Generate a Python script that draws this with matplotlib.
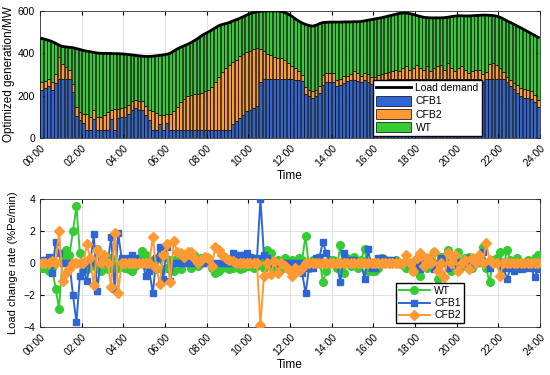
import numpy as np
import matplotlib
matplotlib.use("Agg")
import matplotlib.pyplot as plt

plt.rcParams['font.family'] = ['Liberation Sans', 'DejaVu Sans']

# -- top chart: 10-min dispatch (MW) --
load_demand = [
    470, 466, 461, 455, 447, 438, 432, 430, 428, 426, 422, 418,
    413, 410, 407, 404, 401, 400, 399, 399, 399, 398, 398, 397,
    396, 394, 392, 390, 388, 386, 385, 385, 386, 388, 390, 392,
    395, 400, 410, 420, 428, 435, 442, 450, 460, 470, 482, 492,
    500, 510, 520, 530, 536, 540, 545, 552, 558, 565, 572, 580,
    587, 592, 596, 598, 600, 600, 600, 600, 600, 598, 592, 585,
    575, 563, 552, 543, 536, 531, 528, 532, 540, 545, 546, 547,
    547, 547, 547, 548, 548, 548, 549, 549, 550, 553, 556, 559,
    562, 565, 568, 572, 576, 580, 584, 588, 590, 590, 587, 583,
    578, 574, 570, 568, 567, 567, 567, 567, 568, 570, 573, 575,
    577, 577, 576, 576, 577, 578, 579, 580, 580, 579, 578, 575,
    570, 562, 553, 545, 537, 528, 520, 511, 502, 493, 484, 475]
cfb1 = [
    228, 235, 245, 225, 260, 280, 280, 280, 280, 215, 105, 85,
    70, 40, 40, 90, 40, 40, 40, 40, 90, 40, 95, 100,
    100, 115, 134, 140, 134, 134, 110, 86, 40, 40, 64, 40,
    71, 40, 40, 40, 40, 40, 40, 40, 40, 40, 40, 40,
    40, 40, 40, 40, 40, 40, 40, 65, 80, 95, 110, 126,
    134, 141, 150, 265, 278, 278, 278, 278, 278, 278, 278, 278,
    278, 276, 275, 268, 210, 197, 189, 197, 212, 252, 264, 264,
    264, 244, 250, 258, 267, 272, 275, 270, 265, 272, 262, 255,
    260, 265, 270, 275, 278, 278, 278, 278, 278, 278, 278, 278,
    278, 278, 278, 278, 278, 278, 278, 278, 278, 278, 278, 278,
    278, 278, 278, 278, 278, 278, 278, 262, 278, 278, 278, 278,
    278, 278, 262, 246, 230, 214, 200, 190, 190, 185, 170, 148]
cfb2 = [
    37, 35, 35, 40, 40, 100, 70, 55, 40, 40, 40, 40,
    45, 75, 60, 40, 60, 60, 70, 85, 40, 95, 40, 40,
    45, 42, 39, 40, 42, 39, 40, 48, 89, 78, 46, 70,
    41, 75, 88, 108, 130, 145, 160, 165, 168, 170, 172, 180,
    188, 200, 222, 250, 270, 290, 305, 295, 290, 290, 285, 279,
    276, 279, 275, 157, 132, 117, 115, 102, 100, 100, 92, 77,
    62, 54, 40, 31, 30, 31, 31, 28, 32, 47, 43, 43,
    43, 31, 30, 33, 24, 28, 40, 37, 26, 35, 38, 35,
    30, 30, 30, 30, 32, 37, 42, 36, 52, 60, 44, 52,
    68, 52, 44, 60, 36, 52, 60, 68, 44, 75, 52, 36,
    52, 60, 44, 28, 36, 44, 44, 38, 32, 72, 77, 67,
    52, 32, 28, 29, 30, 34, 35, 40, 38, 35, 35, 32]
wt = [
    205, 196, 181, 190, 147, 58, 82, 95, 108, 171, 277, 293,
    298, 295, 307, 274, 301, 300, 289, 274, 269, 263, 263, 257,
    251, 237, 219, 210, 212, 213, 235, 251, 257, 270, 280, 282,
    283, 285, 282, 272, 258, 250, 242, 245, 252, 260, 270, 272,
    272, 270, 258, 240, 226, 210, 200, 192, 188, 180, 177, 175,
    177, 172, 171, 176, 190, 205, 207, 220, 222, 220, 222, 230,
    235, 233, 237, 244, 296, 303, 308, 307, 296, 246, 239, 240,
    240, 272, 267, 257, 257, 248, 234, 242, 259, 246, 256, 269,
    272, 270, 268, 267, 266, 265, 264, 274, 260, 252, 265, 253,
    232, 244, 248, 230, 253, 237, 229, 221, 246, 217, 243, 261,
    247, 239, 254, 270, 263, 256, 257, 280, 270, 229, 223, 230,
    240, 252, 263, 270, 277, 280, 285, 281, 274, 273, 279, 295]

# -- bottom chart: load change rate (%Pe/min) --
rate_wt = [
    -0.3, -0.3, -0.5, -0.3, -1.6, -2.85, 0.3, 0.8, 0.5, 2.0, 3.55, 0.6,
    -0.5, -0.4, 0.1, -0.2, 0.9, -0.5, 0.3, -0.4, 0.3, -0.2, -0.3, 0.2,
    -0.3, -0.4, -0.5, -0.2, 0.3, 0.75, 0.5, -0.3, 0.2, -0.4, 0.3, -0.4,
    -0.3, 0.2, -0.5, 0.3, -0.4, 0.2, 0.4, -0.3, 0.5, -0.2, 0.3, 0.4,
    0.3, -0.3, -0.6, -0.5, -0.3, -0.2, -0.4, -0.3, -0.2, -0.4, -0.3, -0.2,
    -0.2, -0.3, -0.2, 0.2, -0.3, 0.8, 0.6, -0.3, 0.2, -0.4, 0.3, -0.2,
    0.2, -0.2, 0.3, 0.2, 1.7, -0.3, 0.2, 0.1, 0.3, -1.2, -0.5, 0.2,
    0.2, -0.3, 1.1, -0.6, 0.3, -0.2, 0.4, -0.3, 0.2, 0.9, -0.5, -0.5,
    -0.5, -0.3, 0.3, 0.2, 0.0, 0.1, 0.2, 0.0, -0.1, -0.3, 0.0, -0.5,
    0.0, -0.8, 0.2, -0.3, 0.3, 0.7, -1.0, 0.4, 0.2, 0.8, -0.5, 0.3,
    0.7, -0.2, 0.3, 0.4, -0.3, 0.2, 0.3, 1.0, -0.3, -1.2, 0.2, 0.3,
    0.7, -0.3, 0.8, 0.2, -0.2, 0.3, 0.0, -0.3, 0.2, 0.0, 0.3, 0.5]
rate_cfb1 = [
    0.2, 0.2, 0.4, -0.6, 1.3, 0.6, 0.0, 0.0, 0.0, -2.0, -3.7, -0.8,
    -0.4, -1.1, 0.0, 1.8, -1.75, 0.3, 0.0, 0.0, 1.6, -1.6, 1.9, 0.3,
    0.2, 0.3, 0.5, 0.3, 0.1, 0.0, -0.8, -0.5, -1.9, 0.3, 1.0, -1.0,
    1.0, -1.1, 0.0, 0.0, 0.0, 0.0, 0.0, 0.0, 0.0, 0.0, 0.0, 0.0,
    0.0, 0.0, 0.0, 0.0, 0.0, 0.0, 0.0, 0.6, 0.5, 0.5, 0.5, 0.6,
    0.4, 0.3, 0.3, 4.0, 0.5, 0.3, 0.0, 0.0, 0.0, 0.0, 0.0, 0.0,
    0.0, 0.0, 0.0, -0.6, -1.9, -0.3, -0.3, 0.3, 0.4, 1.3, 0.6, 0.0,
    0.0, 0.0, -1.2, 0.6, 0.2, 0.2, 0.2, 0.0, 0.0, -1.0, 0.85, -0.3,
    -0.3, 0.3, 0.3, 0.2, 0.2, 0.2, 0.1, 0.0, 0.0, 0.0, 0.0, 0.0,
    0.0, -0.4, 0.2, 0.0, 0.0, -0.4, 0.0, 0.3, 0.0, -0.3, 0.0, 0.2,
    -0.2, 0.0, 0.0, 0.3, 0.0, 0.0, 0.0, 0.7, 0.0, -0.3, 0.0, 0.0,
    0.0, -0.3, -1.0, -0.3, -0.5, -0.3, -0.4, -0.3, -0.2, -0.3, -0.9, -0.4]
rate_cfb2 = [
    0.0, 0.0, 0.0, 0.1, 0.0, 2.0, -1.1, -0.6, -0.4, 0.0, 0.0, 0.0,
    0.0, 1.2, 0.3, -1.4, 0.8, 0.0, 0.5, 0.0, -1.5, 1.9, -1.85, 0.0,
    0.0, 0.0, 0.0, 0.0, 0.0, 0.0, 0.0, 0.0, 1.65, -0.3, -1.3, 0.5,
    1.2, -1.2, 1.4, 0.7, 0.6, 0.4, 0.7, 0.7, 0.3, 0.0, 0.2, 0.4,
    0.3, -0.2, 1.0, 0.8, 0.5, 0.3, 0.2, 0.1, 0.0, 0.0, 0.0, 0.0,
    0.0, 0.0, 0.0, -3.9, -0.8, 0.0, -0.7, 0.1, -0.6, 0.0, -0.2, -0.4,
    -0.8, -0.3, -0.5, -0.3, 0.0, 0.0, 0.0, 0.0, 0.0, 0.0, 0.0, 0.0,
    0.0, 0.0, 0.0, 0.0, 0.0, 0.0, 0.0, 0.0, 0.0, 0.0, 0.0, 0.0,
    0.0, 0.0, 0.0, 0.0, 0.0, 0.0, 0.0, 0.0, 0.0, 0.5, 0.0, -0.5,
    0.3, 0.6, -0.2, 0.3, 0.0, 0.7, -0.5, 0.0, -0.9, 0.6, 0.0, 0.5,
    -0.5, 0.0, 0.2, -0.4, 0.3, 0.0, 0.5, 0.0, 1.25, 0.2, 0.0, 0.0,
    -0.8, 0.0, 0.0, 0.0, 0.0, 0.0, 0.0, 0.0, 0.0, 0.0, 0.0, 0.0]

tick_hours = [0, 2, 4, 6, 8, 10, 12, 14, 16, 18, 20, 22, 24]
tick_labels = ["00:00", "02:00", "04:00", "06:00", "08:00", "10:00", "12:00",
               "14:00", "16:00", "18:00", "20:00", "22:00", "24:00"]

c_blue = "#2F66D6"
c_orange = "#FF9933"
c_green = "#33CC33"

t = (np.arange(len(load_demand)) + 0.5) / 6.0
cfb1 = np.array(cfb1)
cfb2 = np.array(cfb2)
wt = np.array(wt)

fig = plt.figure(figsize=(5.5, 3.75), dpi=100)
ax1 = fig.add_axes([0.0727, 0.632, 0.909, 0.339])
ax2 = fig.add_axes([0.0727, 0.128, 0.909, 0.341])

# -- top: stacked bars --
w = 0.8 / 6.0
ln, = ax1.plot(t, load_demand, color="black", lw=2, zorder=4, label="Load demand")
b1 = ax1.bar(t, cfb1, width=w, color=c_blue, edgecolor="black", lw=0.5, label="CFB1", zorder=3)
b2 = ax1.bar(t, cfb2, width=w, bottom=cfb1, color=c_orange, edgecolor="black", lw=0.5,
             label="CFB2", zorder=3)
b3 = ax1.bar(t, wt, width=w, bottom=cfb1 + cfb2, color=c_green, edgecolor="black", lw=0.5,
             label="WT", zorder=3)
ax1.set_ylim(0, 600)
ax1.set_yticks([0, 200, 400, 600])
ax1.set_ylabel("Optimized generation/MW", fontsize=8.5, labelpad=2)
ax1.legend(handles=[ln, b1, b2, b3], loc="lower right", bbox_to_anchor=(0.888, 0.0),
           fontsize=7.5, fancybox=False, edgecolor="black", framealpha=1,
           borderpad=0.3, labelspacing=0.25, handlelength=3.4, handleheight=1.1,
           handletextpad=0.4, borderaxespad=0.2)

# -- bottom: change rates --
ax2.plot(t, rate_wt, color=c_green, marker="o", ms=5.5, lw=1.4, label="WT", zorder=3)
ax2.plot(t, rate_cfb1, color=c_blue, marker="s", ms=5, lw=1.4, label="CFB1", zorder=4)
ax2.plot(t, rate_cfb2, color=c_orange, marker="D", ms=5, lw=1.4, label="CFB2", zorder=5)
ax2.set_ylim(-4, 4)
ax2.set_yticks([-4, -2, 0, 2, 4])
ax2.set_ylabel("Load change rate (%Pe/min)", fontsize=8, labelpad=4)
ax2.legend(loc="lower right", bbox_to_anchor=(0.852, 0.012), fontsize=7.5,
           fancybox=False, edgecolor="black", framealpha=1, borderpad=0.3,
           labelspacing=0.2, handlelength=3, handletextpad=0.4, borderaxespad=0.2)

for ax in (ax1, ax2):
    ax.set_xlim(0, 24)
    ax.set_xticks(tick_hours)
    ax.set_xticklabels(tick_labels, rotation=45, ha="right", rotation_mode="anchor")
    ax.set_xlabel("Time", fontsize=8.5, labelpad=1)
    ax.tick_params(direction="in", labelsize=7.5, length=3, top=True, right=True)
    ax.grid(True, color="#DDDDDD", lw=0.6, zorder=0)
    ax.set_axisbelow(True)
    for s in ax.spines.values():
        s.set_color("#333333")
        s.set_linewidth(0.6)

fig.savefig("out.png", dpi=100)
